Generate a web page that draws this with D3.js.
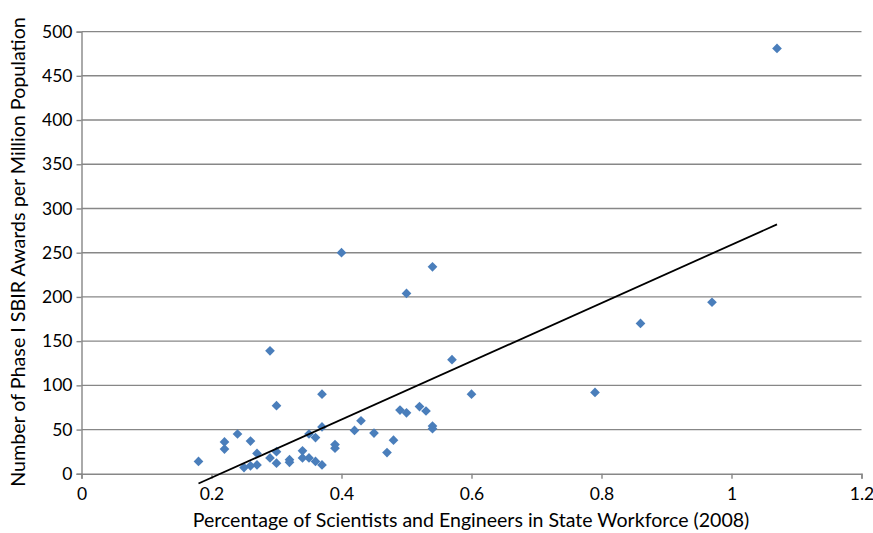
<!DOCTYPE html>
<html>
<head>
<meta charset="utf-8">
<script src="https://cdn.jsdelivr.net/npm/d3@7"></script>
<style>
  html, body { margin: 0; padding: 0; background: #fff; }
  svg { display: block; }
  text { font-family: Lato, "Open Sans", "Liberation Sans", sans-serif; fill: #000; }
</style>
</head>
<body>
<svg id="chart" width="873" height="533"></svg>
<script>
// ---- data ----
const pctScientists = [1.07, 0.97, 0.86, 0.79, 0.60, 0.57, 0.54, 0.50, 0.40, 0.29,
  0.30, 0.37, 0.18, 0.24, 0.22, 0.22, 0.26, 0.27, 0.27, 0.25,
  0.26, 0.29, 0.30, 0.30, 0.32, 0.32, 0.34, 0.34, 0.35, 0.36,
  0.37, 0.35, 0.36, 0.37, 0.39, 0.39, 0.42, 0.43, 0.45, 0.47,
  0.48, 0.49, 0.50, 0.52, 0.53, 0.54, 0.54];
const awardsPerMillion = [481, 194, 170, 92, 90, 129, 234, 204, 250, 139,
  77, 90, 14, 45, 36, 28, 37, 23, 10, 7,
  9, 18, 25, 12, 16, 13, 26, 18, 18, 14,
  10, 45, 41, 53, 33, 29, 49, 60, 46, 24,
  38, 72, 69, 76, 71, 54, 51];
const trendX = [0.18, 1.07];
const trendY = [-11, 282];
const xTicks = [0, 0.2, 0.4, 0.6, 0.8, 1, 1.2];
const yTicks = [0, 50, 100, 150, 200, 250, 300, 350, 400, 450, 500];
const xTitle = "Percentage of Scientists and Engineers in State Workforce (2008)";
const yTitle = "Number of Phase I SBIR Awards per Million Population";

// ---- layout ----
const svg = d3.select("#chart");
const mLeft = 81.5, mRight = 861.5, mTop = 31.6, mBottom = 473.8;
const x = d3.scaleLinear().domain([0, 1.2]).range([mLeft, mRight]);
const y = d3.scaleLinear().domain([0, 500]).range([mBottom, mTop]);
const gridColor = "#878787";

// gridlines
svg.append("g").selectAll("line").data(yTicks.filter(d => d > 0)).join("line")
  .attr("x1", mLeft).attr("x2", mRight)
  .attr("y1", d => y(d)).attr("y2", d => y(d))
  .attr("stroke", gridColor).attr("stroke-width", 1.4);

// y axis
const yAxis = d3.axisLeft(y).tickValues(yTicks).tickSize(5).tickPadding(5).tickFormat(d3.format("d"));
const gy = svg.append("g").attr("transform", `translate(${mLeft},0)`).call(yAxis);
gy.select(".domain").attr("stroke", gridColor).attr("stroke-width", 1.4);
gy.selectAll(".tick line").attr("stroke", gridColor).attr("stroke-width", 1.4);
gy.selectAll(".tick text").attr("font-size", 17.5).attr("font-family", "Lato, 'Open Sans', sans-serif")
  .attr("fill", "#000").attr("x", -9);

// x axis
const xAxis = d3.axisBottom(x).tickValues(xTicks).tickSize(5).tickPadding(6).tickFormat(d => String(d));
const gx = svg.append("g").attr("transform", `translate(0,${mBottom})`).call(xAxis);
gx.select(".domain").attr("stroke", gridColor).attr("stroke-width", 1.4);
gx.selectAll(".tick line").attr("stroke", gridColor).attr("stroke-width", 1.4);
gx.selectAll(".tick text").attr("font-size", 17.5).attr("font-family", "Lato, 'Open Sans', sans-serif")
  .attr("fill", "#000").attr("dy", "0.88em");

// points (diamonds)
const pts = pctScientists.map((v, i) => ({ x: v, y: awardsPerMillion[i] }));
const diamond = d3.symbol().type(d3.symbolDiamond2).size(60);
svg.append("g").selectAll("path").data(pts).join("path")
  .attr("d", diamond)
  .attr("transform", d => `translate(${x(d.x)},${y(d.y)})`)
  .attr("fill", "#4a7ebb");

// trend line
svg.append("line")
  .attr("x1", x(trendX[0])).attr("y1", y(trendY[0]))
  .attr("x2", x(trendX[1])).attr("y2", y(trendY[1]))
  .attr("stroke", "#000").attr("stroke-width", 1.8);

// titles
function fitText(sel, width) {
  const w = sel.node().getComputedTextLength();
  const fs = parseFloat(sel.attr("font-size"));
  sel.attr("font-size", fs * width / w);
}
const xt = svg.append("text").attr("x", 471).attr("y", 527).attr("text-anchor", "middle")
  .attr("font-size", 17).text(xTitle);
fitText(xt, 557);
const yt = svg.append("text").attr("transform", "translate(25,252) rotate(-90)")
  .attr("text-anchor", "middle").attr("font-size", 17).text(yTitle);
fitText(yt, 470);
</script>
</body>
</html>
